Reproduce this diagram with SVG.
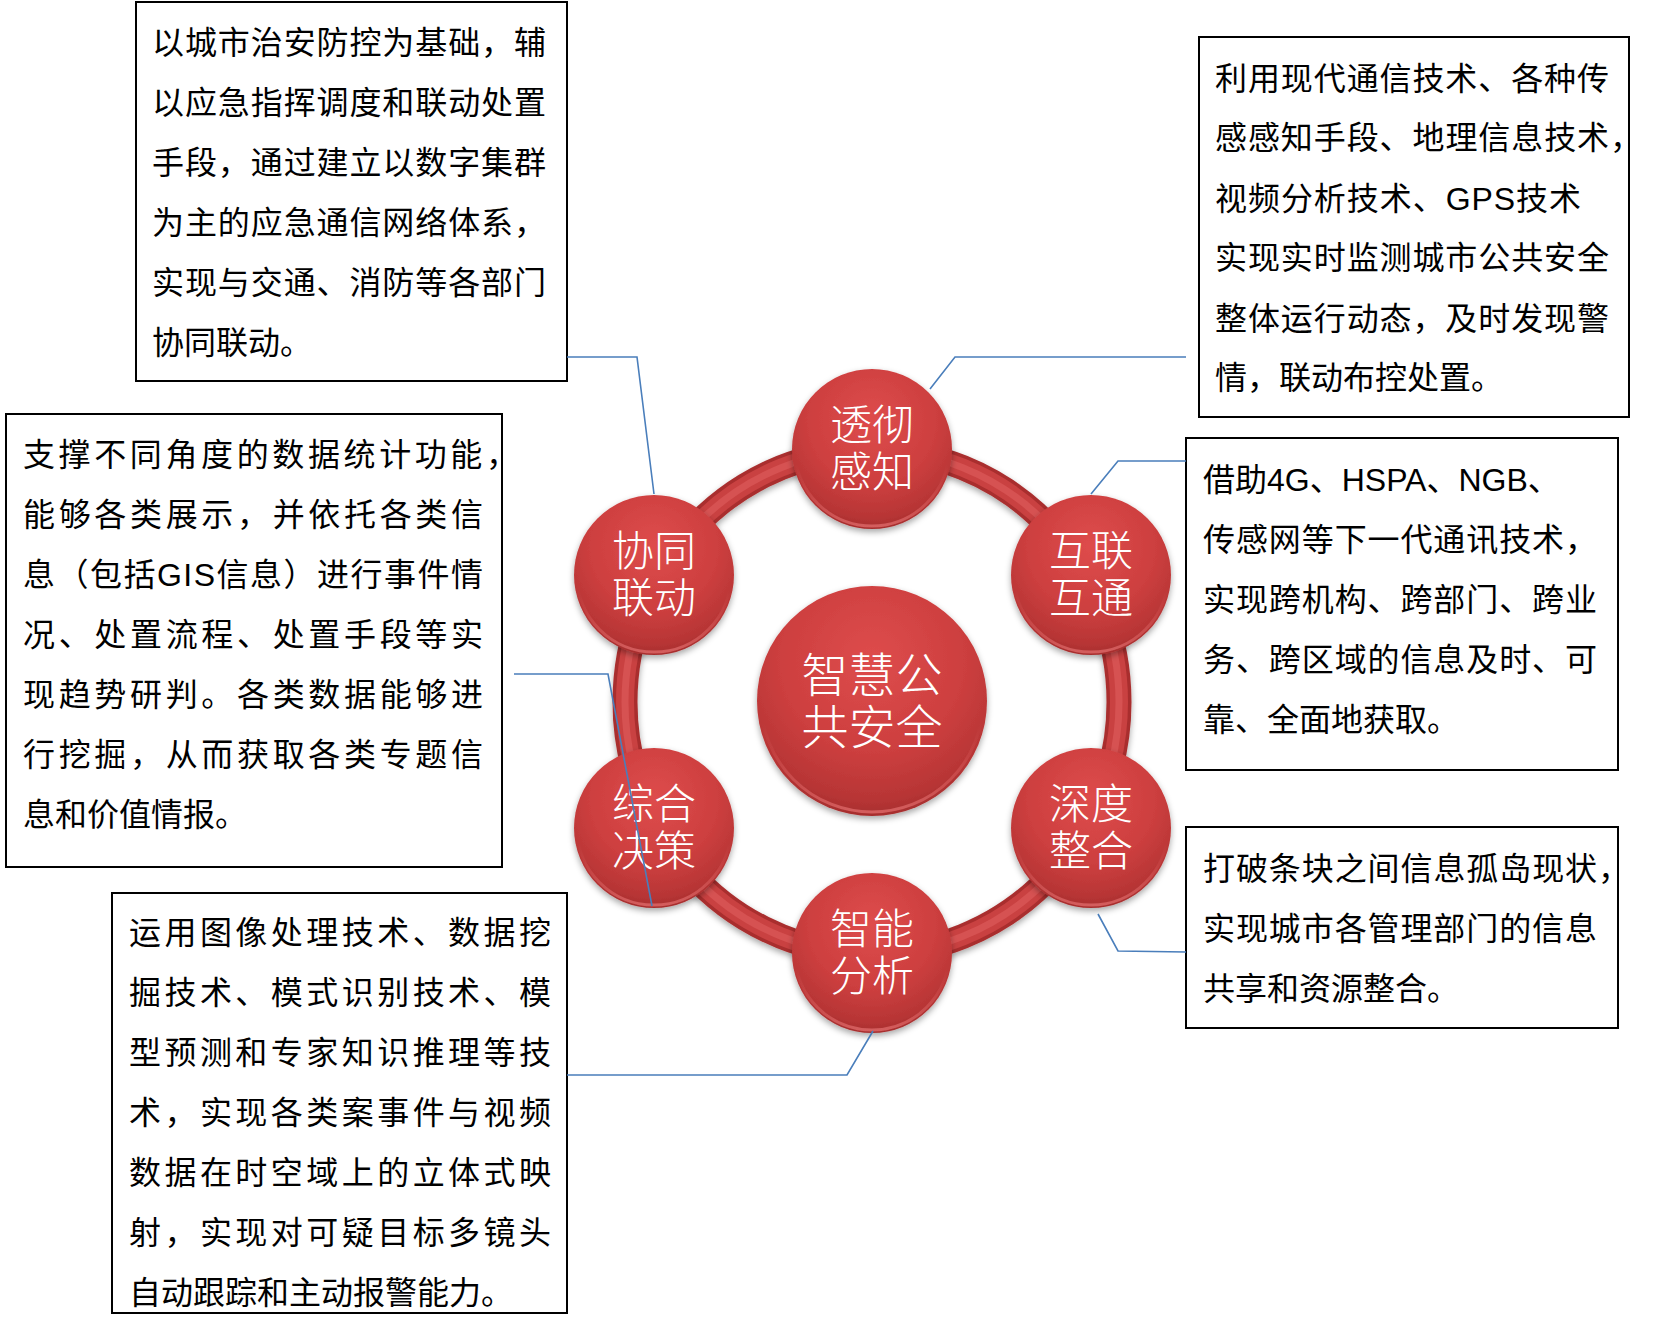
<svg xmlns="http://www.w3.org/2000/svg" width="1667" height="1331" viewBox="0 0 1667 1331">
<defs>
<style>
.box{fill:#fff;stroke:#000;stroke-width:2}
.t{font-family:"Liberation Sans","Noto Sans CJK SC",sans-serif;font-size:32px;fill:#000}
.ct{font-family:"Liberation Serif","Noto Sans CJK SC",sans-serif;font-weight:300;font-size:42px;fill:#fff;text-anchor:middle}
.cc{font-family:"Liberation Serif","Noto Sans CJK SC",sans-serif;font-weight:300;font-size:47px;fill:#fff;text-anchor:middle}
.conn{fill:none;stroke:#4A7EBB;stroke-width:1.6}
.ball{fill:url(#ballG);filter:url(#sh)}
.rim{fill:none;stroke:url(#rimG);stroke-width:3}
</style>
<radialGradient id="ballG" cx="50%" cy="32%" r="72%">
<stop offset="0" stop-color="#DE4C4C"/>
<stop offset="0.55" stop-color="#CD3F3F"/>
<stop offset="0.85" stop-color="#B73535"/>
<stop offset="1" stop-color="#9C2A2A"/>
</radialGradient>
<linearGradient id="rimG" x1="0" y1="0" x2="0" y2="1">
<stop offset="0" stop-color="#E06060" stop-opacity="0"/>
<stop offset="0.6" stop-color="#E06060" stop-opacity="0"/>
<stop offset="1" stop-color="#E57070" stop-opacity="0.7"/>
</linearGradient>
<filter id="sh" x="-20%" y="-20%" width="140%" height="150%">
<feDropShadow dx="0" dy="3" stdDeviation="3" flood-color="#000" flood-opacity="0.35"/>
</filter>
</defs>

<g id="ring">
<ellipse cx="872" cy="702" rx="247" ry="252" fill="none" stroke="#A92F2F" stroke-width="25" filter="url(#sh)"/>
<ellipse cx="872" cy="702" rx="247" ry="252" fill="none" stroke="#C94141" stroke-width="18"/>
<ellipse cx="872" cy="702" rx="247" ry="252" fill="none" stroke="#D65252" stroke-width="7"/>
</g>

<g id="node-center">
<circle class="ball" cx="872" cy="701" r="115"/>
<circle class="rim" cx="872" cy="701" r="111"/>
<text class="cc" x="872" y="692">智慧公<tspan x="872" dy="52">共安全</tspan></text>
</g>

<g id="node-toucheganzhi">
<circle class="ball" cx="872" cy="449" r="80"/>
<circle class="rim" cx="872" cy="449" r="77"/>
<text class="ct" x="872" y="440">透彻<tspan x="872" dy="47">感知</tspan></text>
</g>

<g id="node-hulianhutong">
<circle class="ball" cx="1091" cy="575" r="80"/>
<circle class="rim" cx="1091" cy="575" r="77"/>
<text class="ct" x="1091" y="566">互联<tspan x="1091" dy="47">互通</tspan></text>
</g>

<g id="node-shendu">
<circle class="ball" cx="1091" cy="828" r="80"/>
<circle class="rim" cx="1091" cy="828" r="77"/>
<text class="ct" x="1091" y="819">深度<tspan x="1091" dy="47">整合</tspan></text>
</g>

<g id="node-zhineng">
<circle class="ball" cx="872" cy="953" r="80"/>
<circle class="rim" cx="872" cy="953" r="77"/>
<text class="ct" x="872" y="944">智能<tspan x="872" dy="47">分析</tspan></text>
</g>

<g id="node-zonghe">
<circle class="ball" cx="654" cy="828" r="80"/>
<circle class="rim" cx="654" cy="828" r="77"/>
<text class="ct" x="654" y="819">综合<tspan x="654" dy="47">决策</tspan></text>
</g>

<g id="node-xietong">
<circle class="ball" cx="654" cy="575" r="80"/>
<circle class="rim" cx="654" cy="575" r="77"/>
<text class="ct" x="654" y="566">协同<tspan x="654" dy="47">联动</tspan></text>
</g>

<g id="box-xietong">
<rect class="box" x="136" y="2" width="431" height="379"/>
<text class="t" x="152" y="54" textLength="394" lengthAdjust="spacing">以城市治安防控为基础，辅</text>
<text class="t" x="152" y="114" textLength="394" lengthAdjust="spacing">以应急指挥调度和联动处置</text>
<text class="t" x="152" y="174" textLength="394" lengthAdjust="spacing">手段，通过建立以数字集群</text>
<text class="t" x="152" y="234" textLength="394" lengthAdjust="spacing">为主的应急通信网络体系，</text>
<text class="t" x="152" y="294" textLength="394" lengthAdjust="spacing">实现与交通、消防等各部门</text>
<text class="t" x="152" y="354">协同联动。</text>
</g>

<g id="box-toucheganzhi">
<rect class="box" x="1199" y="37" width="430" height="380"/>
<text class="t" x="1215" y="90" textLength="394" lengthAdjust="spacing">利用现代通信技术、各种传</text>
<text class="t" x="1215" y="149" textLength="427" lengthAdjust="spacing">感感知手段、地理信息技术，</text>
<text class="t" x="1215" y="210" textLength="366" lengthAdjust="spacing">视频分析技术、GPS技术</text>
<text class="t" x="1215" y="269" textLength="394" lengthAdjust="spacing">实现实时监测城市公共安全</text>
<text class="t" x="1215" y="330" textLength="394" lengthAdjust="spacing">整体运行动态，及时发现警</text>
<text class="t" x="1215" y="389">情，联动布控处置。</text>
</g>

<g id="box-hulianhutong">
<rect class="box" x="1186" y="438" width="432" height="332"/>
<text class="t" x="1203" y="491">借助4G、HSPA、NGB、</text>
<text class="t" x="1203" y="551" textLength="394" lengthAdjust="spacing">传感网等下一代通讯技术，</text>
<text class="t" x="1203" y="611" textLength="394" lengthAdjust="spacing">实现跨机构、跨部门、跨业</text>
<text class="t" x="1203" y="671" textLength="394" lengthAdjust="spacing">务、跨区域的信息及时、可</text>
<text class="t" x="1203" y="731">靠、全面地获取。</text>
</g>

<g id="box-shendu">
<rect class="box" x="1186" y="827" width="432" height="201"/>
<text class="t" x="1203" y="880" textLength="427" lengthAdjust="spacing">打破条块之间信息孤岛现状，</text>
<text class="t" x="1203" y="940" textLength="394" lengthAdjust="spacing">实现城市各管理部门的信息</text>
<text class="t" x="1203" y="1000">共享和资源整合。</text>
</g>

<g id="box-zonghe">
<rect class="box" x="6" y="414" width="496" height="453"/>
<text class="t" x="23" y="466" textLength="495" lengthAdjust="spacing">支撑不同角度的数据统计功能，</text>
<text class="t" x="23" y="526" textLength="460" lengthAdjust="spacing">能够各类展示，并依托各类信</text>
<text class="t" x="23" y="586" textLength="460" lengthAdjust="spacing">息（包括GIS信息）进行事件情</text>
<text class="t" x="23" y="646" textLength="460" lengthAdjust="spacing">况、处置流程、处置手段等实</text>
<text class="t" x="23" y="706" textLength="460" lengthAdjust="spacing">现趋势研判。各类数据能够进</text>
<text class="t" x="23" y="766" textLength="460" lengthAdjust="spacing">行挖掘，从而获取各类专题信</text>
<text class="t" x="23" y="826">息和价值情报。</text>
</g>

<g id="box-zhineng">
<rect class="box" x="112" y="893" width="455" height="420"/>
<text class="t" x="129" y="944" textLength="422" lengthAdjust="spacing">运用图像处理技术、数据挖</text>
<text class="t" x="129" y="1004" textLength="422" lengthAdjust="spacing">掘技术、模式识别技术、模</text>
<text class="t" x="129" y="1064" textLength="422" lengthAdjust="spacing">型预测和专家知识推理等技</text>
<text class="t" x="129" y="1124" textLength="422" lengthAdjust="spacing">术，实现各类案事件与视频</text>
<text class="t" x="129" y="1184" textLength="422" lengthAdjust="spacing">数据在时空域上的立体式映</text>
<text class="t" x="129" y="1244" textLength="422" lengthAdjust="spacing">射，实现对可疑目标多镜头</text>
<text class="t" x="129" y="1304">自动跟踪和主动报警能力。</text>
</g>

<g id="connectors">
<polyline class="conn" points="567,357 637,357 654,494"/>
<polyline class="conn" points="1186,357 955,357 930,389"/>
<polyline class="conn" points="1186,461 1118,461 1091,494"/>
<polyline class="conn" points="1186,952 1118,951 1098,914"/>
<polyline class="conn" points="567,1075 847,1075 873,1031"/>
<polyline class="conn" points="514,674 608,674 652,906"/>
</g>
</svg>
